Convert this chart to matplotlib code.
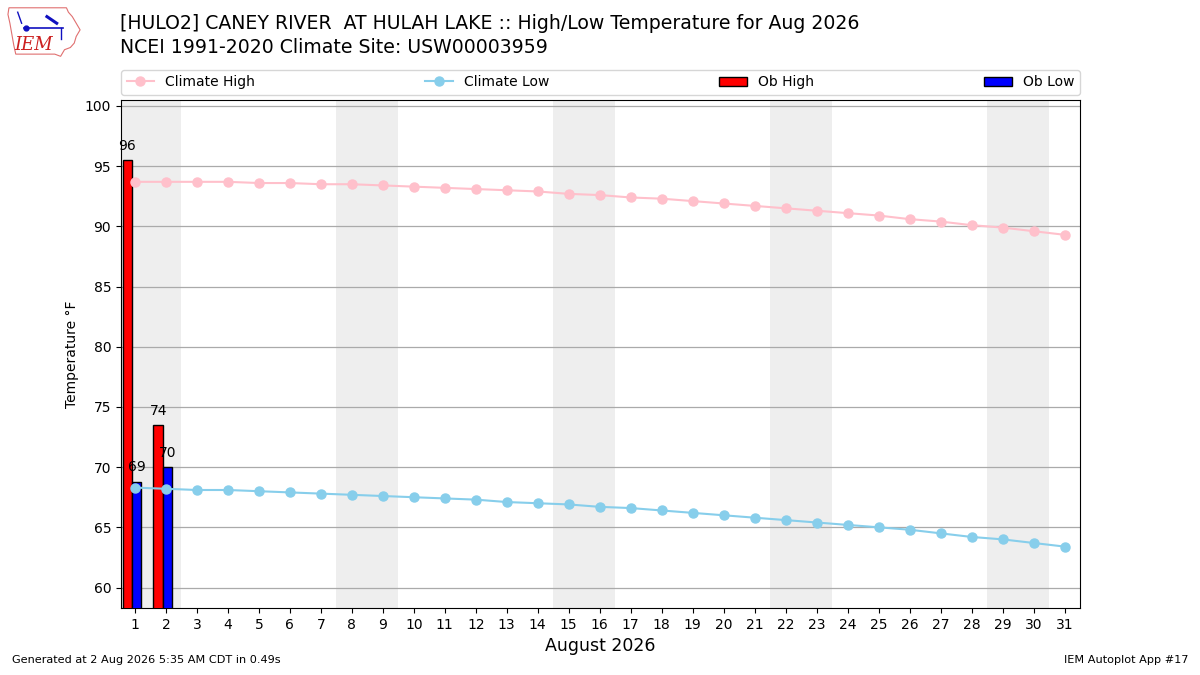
import matplotlib
matplotlib.use("Agg")
import matplotlib.pyplot as plt
from matplotlib.patches import Polygon
import numpy as np

days = list(range(1, 32))
climate_high = [93.7, 93.7, 93.7, 93.7, 93.6, 93.6, 93.5, 93.5, 93.4, 93.3,
                93.2, 93.1, 93.0, 92.9, 92.7, 92.6, 92.4, 92.3, 92.1, 91.9,
                91.7, 91.5, 91.3, 91.1, 90.9, 90.6, 90.4, 90.1, 89.9, 89.6, 89.3]
climate_low = [68.3, 68.2, 68.1, 68.1, 68.0, 67.9, 67.8, 67.7, 67.6, 67.5,
               67.4, 67.3, 67.1, 67.0, 66.9, 66.7, 66.6, 66.4, 66.2, 66.0,
               65.8, 65.6, 65.4, 65.2, 65.0, 64.8, 64.5, 64.2, 64.0, 63.7, 63.4]
ob_days = [1, 2]
ob_high = [95.5, 73.5]
ob_low = [68.8, 70.0]
weekend_starts = [1, 8, 15, 22, 29]

fig = plt.figure(figsize=(12, 6.75), dpi=100)
ax = fig.add_axes([0.1008, 0.0993, 0.7992, 0.7526])

for d in weekend_starts:
    ax.axvspan(d - 0.5, d + 1.5, color="#EEEEEE", zorder=0, lw=0)

ax.grid(axis="y", color="#AAAAAA", lw=0.9, zorder=1)
ax.set_axisbelow(True)

od = np.array(ob_days)
b1 = ax.bar(od - 0.25, ob_high, width=0.3, color="red", edgecolor="black", lw=1, zorder=3, label="Ob High")
b2 = ax.bar(od + 0.05, ob_low, width=0.3, color="blue", edgecolor="black", lw=1, zorder=3, label="Ob Low")
for x, v in zip(od - 0.25, ob_high):
    ax.text(x, v + 0.6, "%.0f" % v, ha="center", va="bottom", fontsize=10, zorder=5)
for x, v in zip(od + 0.05, ob_low):
    ax.text(x, v + 0.6, "%.0f" % v, ha="center", va="bottom", fontsize=10, zorder=5)

l1, = ax.plot(days, climate_high, "-o", color="pink", ms=6.5, lw=1.5, zorder=4, label="Climate High")
l2, = ax.plot(days, climate_low, "-o", color="skyblue", ms=6.5, lw=1.5, zorder=4, label="Climate Low")

ax.set_xlim(0.55, 31.5)
ax.set_ylim(58.3, 100.5)
ax.set_xticks(days)
ax.set_yticks(range(60, 101, 5))
ax.set_ylabel("Temperature °F", fontsize=10)
ax.set_xlabel("August 2026", fontsize=12.5)

ax.legend(handles=[l1, l2, b1[0], b2[0]], labels=["Climate High", "Climate Low", "Ob High", "Ob Low"],
          loc="lower left", bbox_to_anchor=(0, 1.01, 1, 0.05), mode="expand", ncol=4,
          borderaxespad=0, fontsize=10)

fig.text(0.1, 0.965, "[HULO2] CANEY RIVER  AT HULAH LAKE :: High/Low Temperature for Aug 2026",
         fontsize=13.6, ha="left", va="center")
fig.text(0.1, 0.930, "NCEI 1991-2020 Climate Site: USW00003959", fontsize=13.6, ha="left", va="center")
fig.text(0.01, 0.015, "Generated at 2 Aug 2026 5:35 AM CDT in 0.49s", fontsize=8.1, ha="left", va="bottom")
fig.text(0.99, 0.015, "IEM Autoplot App #17", fontsize=8.1, ha="right", va="bottom")

# simple logo approximation
lax = fig.add_axes([0.005, 0.91, 0.065, 0.085])
lax.set_xlim(0, 80)
lax.set_ylim(0, 52)
lax.axis("off")
outline = [(3, 48), (62, 48), (64, 44), (68, 40), (72, 34), (76, 28), (72, 22), (70, 16), (66, 12),
           (60, 10), (56, 4), (50, 6), (10, 6), (8, 14), (6, 24), (4, 34), (2, 42)]
lax.add_patch(Polygon(outline, closed=True, fill=False, edgecolor="#E07070", lw=0.8))
lax.plot([18, 58], [30, 30], color="#1010C0", lw=1.2)
lax.plot([20], [30], "o", color="#1010C0", ms=3.5)
lax.plot([16, 12], [34, 44], color="#1010C0", lw=1)
lax.plot([42, 52], [40, 34], color="#1010C0", lw=2.2)
lax.plot([56, 56], [30, 20], color="#1010C0", lw=1)
lax.text(28, 14, "IEM", color="#CC2020", fontsize=13, family="DejaVu Serif", style="italic",
         ha="center", va="center")

fig.savefig("out.png", dpi=100)
